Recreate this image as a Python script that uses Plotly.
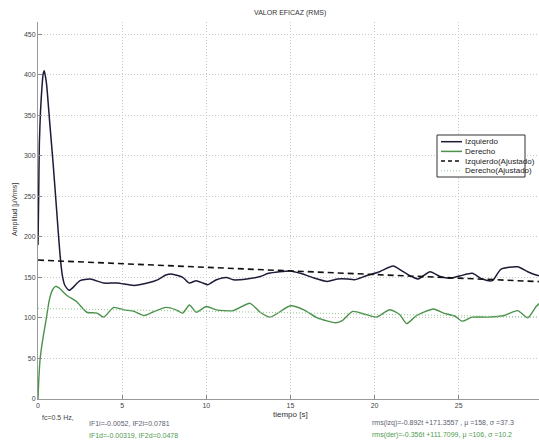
import plotly.graph_objects as go

# Tiempo [s] y valor eficaz [uVrms] del canal izquierdo
t_izq = [0, 0.04, 0.08, 0.15, 0.22, 0.3, 0.37, 0.5, 0.7, 0.9, 1.1, 1.3, 1.45, 1.6,
         1.85, 2.1, 2.5, 3.1, 3.9, 4.7, 5.7, 6.5, 7.1, 7.6, 8.0, 8.6, 9.0, 9.4, 9.8,
         10.1, 10.6, 11.2, 11.6, 12.4, 13.2, 13.7, 15.0, 15.6, 16.3, 17.2, 17.8, 18.4,
         18.8, 19.5, 20.3, 21.1, 21.7, 22.3, 22.6, 23.3, 23.9, 24.5, 25.1, 25.8, 26.4,
         27.0, 27.5, 28.5, 29.1, 29.6, 29.8]
v_izq = [190, 250, 315, 355, 380, 400, 405, 390, 340, 290, 235, 180, 152, 140,
         134, 138, 146, 148, 143, 143, 140, 143, 147, 153, 154, 150, 143, 146, 143,
         141, 147, 150, 147, 148, 151, 155, 158, 155, 150, 145, 148, 148,
         147, 152, 157, 164, 157, 150, 148, 157, 151, 149, 152, 155, 148,
         146, 160, 163, 157, 153, 152]

# Tiempo [s] y valor eficaz [uVrms] del canal derecho
t_der = [0, 0.05, 0.12, 0.22, 0.34, 0.5, 0.67, 0.85, 1.05, 1.25, 1.7, 2.3, 2.9, 3.5,
         3.9, 4.5, 5.1, 5.7, 6.3, 6.8, 7.6, 8.2, 8.6, 9.0, 9.4, 10.0, 10.6, 11.6, 12.6,
         13.2, 13.8, 15.0, 15.8, 16.6, 17.7, 18.1, 18.7, 19.5, 20.1, 20.9, 21.5, 21.9,
         22.5, 23.5, 24.1, 24.8, 25.2, 25.8, 26.7, 27.7, 28.5, 29.1, 29.6, 29.8]
v_der = [0, 25, 48, 65, 81, 100, 122, 134, 139, 137, 128, 120, 107, 106,
         101, 113, 110, 108, 103, 107, 113, 110, 106, 116, 107, 114, 110, 109, 118,
         107, 101, 115, 110, 100, 94, 97, 108, 104, 101, 110, 104, 93,
         103, 111, 106, 102, 96, 101, 101, 103, 109, 100, 114, 118]

# Ajustes lineales rms(t) = a*t + b
a_izq, b_izq = -0.892, 171.3557
a_der, b_der = -0.356, 111.7099
t_fit = [0, 29.8]

x_ticks = [0, 5, 10, 15, 20, 25]
y_ticks = [0, 50, 100, 150, 200, 250, 300, 350, 400, 450]

X_MAX, Y_MAX = 29.77, 465

C_IZQ = "#1c1c38"
C_DER = "#4c924c"
C_DER_FIT = "#8fca8f"
C_TXT = "#444444"
FONT = "Liberation Sans, Arial, sans-serif"

fig = go.Figure()
fig.add_trace(go.Scatter(x=t_izq, y=v_izq, mode="lines", name="Izquierdo",
                         line=dict(color=C_IZQ, width=1.5, shape="spline", smoothing=0.6)))
fig.add_trace(go.Scatter(x=t_der, y=v_der, mode="lines", name="Derecho",
                         line=dict(color=C_DER, width=1.4, shape="spline", smoothing=0.6)))
fig.add_trace(go.Scatter(x=t_fit, y=[a_izq * t + b_izq for t in t_fit], mode="lines",
                         name="Izquierdo(Ajustado)",
                         line=dict(color="#111111", width=1.6, dash="6px,4px")))
fig.add_trace(go.Scatter(x=t_fit, y=[a_der * t + b_der for t in t_fit], mode="lines",
                         name="Derecho(Ajustado)",
                         line=dict(color=C_DER_FIT, width=1, dash="1px,2px")))

# Plot area in pixels, used to place the legend box and footer notes
L, R, T, B = 38, 539, 22, 399
W, H = R - L, B - T


def px(x):
    return (x - L) / W


def py(y):
    return (B - y) / H


# Legend drawn as a framed box with line samples
shapes = [dict(type="rect", xref="paper", yref="paper",
               x0=px(437), x1=px(525), y0=py(177), y1=py(135),
               line=dict(color="#333333", width=1), fillcolor="white", layer="above")]
entries = [("Izquierdo", C_IZQ, 1.5, "solid"),
           ("Derecho", C_DER, 1.5, "solid"),
           ("Izquierdo(Ajustado)", "#111111", 1.5, "4px,3px"),
           ("Derecho(Ajustado)", C_DER_FIT, 1, "1px,2px")]
annotations = []
for i, (name, col, w, d) in enumerate(entries):
    yy = 141.7 + i * 9.7
    shapes.append(dict(type="line", xref="paper", yref="paper",
                       x0=px(441), x1=px(462), y0=py(yy), y1=py(yy),
                       line=dict(color=col, width=w, dash=d), layer="above"))
    annotations.append(dict(text=name, xref="paper", yref="paper", x=px(463), y=py(yy),
                            xanchor="left", yanchor="middle", showarrow=False,
                            font=dict(size=8, color="#222222", family=FONT)))

# Footer notes
notes = [
    ("fc=0.5 Hz,", 40, 417, C_TXT),
    ("IF1i=-0.0052, IF2i=0.0781", 87, 423, "#5a6070"),
    ("IF1d=-0.00319, IF2d=0.0478", 87, 435, "#4f9a4f"),
    ("rms(izq)=-0.892t +171.3557 , \u03bc =158, \u03c3 =37.3", 370, 423, "#5a6070"),
    ("rms(der)=-0.356t +111.7099, \u03bc =106, \u03c3 =10.2", 370, 435, "#4f9a4f"),
]
for text, x0, y0, col in notes:
    annotations.append(dict(text=text, xref="paper", yref="paper", x=px(x0), y=py(y0),
                            xanchor="left", yanchor="middle", showarrow=False,
                            font=dict(size=7, color=col, family=FONT)))

annotations.append(dict(text="VALOR EFICAZ (RMS)", xref="paper", yref="paper",
                        x=px(290), y=py(13), xanchor="center", yanchor="middle",
                        showarrow=False, font=dict(size=7, color="#333333", family=FONT)))
annotations.append(dict(text="tiempo [s]", xref="paper", yref="paper",
                        x=px(290), y=py(414), xanchor="center", yanchor="middle",
                        showarrow=False, font=dict(size=8, color="#333333", family=FONT)))
annotations.append(dict(text="Amplitud [\u03bcVrms]", xref="paper", yref="paper",
                        x=px(15), y=py(210), xanchor="center", yanchor="middle",
                        textangle=-90, showarrow=False,
                        font=dict(size=7, color="#333333", family=FONT)))

grid = dict(showgrid=True, gridcolor="#c8c8c8", gridwidth=1, griddash="1px,2px")
axis_style = dict(ticks="inside", ticklen=4, tickcolor="#888888", showline=True,
                  linecolor="#999999", linewidth=1, zeroline=False,
                  tickfont=dict(size=7, color=C_TXT, family=FONT), **grid)
fig.update_xaxes(range=[0, X_MAX], tickvals=x_ticks, **axis_style)
fig.update_yaxes(range=[0, Y_MAX], tickvals=y_ticks, **axis_style)

fig.update_layout(
    width=539, height=441,
    margin=dict(l=L, r=539 - R, t=T, b=441 - B),
    paper_bgcolor="white", plot_bgcolor="white",
    showlegend=False,
    shapes=shapes, annotations=annotations,
)

fig.write_html("out.html")
